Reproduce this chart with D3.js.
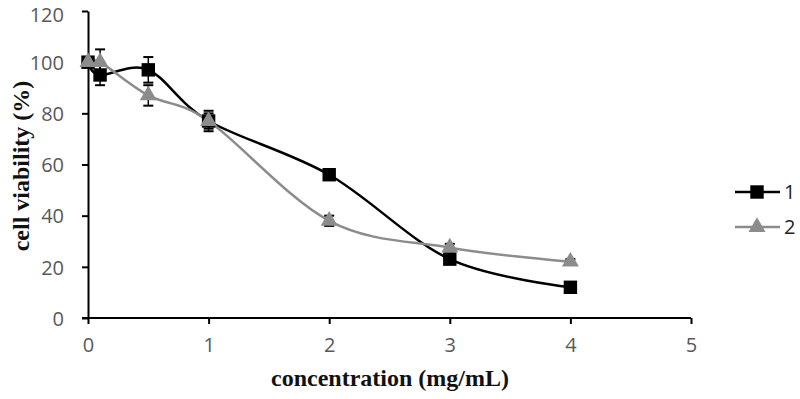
<!DOCTYPE html>
<html>
<head>
<meta charset="utf-8">
<script src="https://cdn.jsdelivr.net/npm/d3@7"></script>
<style>
    body { margin: 0; background: #fff; }
    .tick text { font-family: "Open Sans", sans-serif; font-size: 20px; fill: #595959; }
    .axis-title { font-family: "Liberation Serif", serif; font-weight: bold; font-size: 24px; fill: #111; }
    .legend text { font-family: "Open Sans", sans-serif; font-size: 20px; fill: #222; }
</style>
</head>
<body>
<svg id="chart" width="800" height="399"></svg>
<script>
const conc = [0, 0.1, 0.5, 1, 2, 3, 4];
const viab1 = [100, 95, 97, 77, 56, 23, 12];
const err1 = [2, 4, 5, 4, 2, 1.5, 1];
const viab2 = [100, 100, 87, 77, 38, 27.5, 22];
const err2 = [2, 5, 4, 3, 2, 1.5, 1];
const xTicks = [0, 1, 2, 3, 4, 5];
const yTicks = [0, 20, 40, 60, 80, 100, 120];
const seriesNames = ["1", "2"];

const svg = d3.select("#chart");
const padding = {top: 11, right: 109, bottom: 81, left: 88};
const width = 800, height = 399;

const x = d3.scaleLinear().domain([0, 5]).range([padding.left, width - padding.right]);
const y = d3.scaleLinear().domain([0, 120]).range([height - padding.bottom, padding.top]);

const series = [
    {name: seriesNames[0], values: viab1, err: err1, color: "#000", symbol: d3.symbolSquare, size: 180},
    {name: seriesNames[1], values: viab2, err: err2, color: "#8c8c8c", symbol: d3.symbolTriangle, size: 125}
];

// axes
const xAxis = svg.append("g")
    .attr("transform", `translate(0,${y(0)})`)
    .call(d3.axisBottom(x).tickValues(xTicks).tickFormat(d3.format("d")).tickSize(6).tickSizeOuter(0));
xAxis.select(".domain").attr("stroke", "#000").attr("stroke-width", 2).attr("d", `M${x(0) - 6},0H${x(5)}`);
xAxis.selectAll(".tick line").attr("stroke-width", 2);
xAxis.selectAll(".tick text").attr("y", 14).attr("dy", "1em");

const yAxis = svg.append("g")
    .attr("transform", `translate(${x(0)},0)`)
    .call(d3.axisLeft(y).tickValues(yTicks).tickSize(6).tickSizeOuter(0));
yAxis.select(".domain").attr("stroke", "#000").attr("stroke-width", 2);
yAxis.selectAll(".tick line").attr("stroke-width", 2);
yAxis.selectAll(".tick text").attr("x", -24).attr("dy", "0.36em")
    .filter(d => d === 120).attr("y", 3); // keep the top label inside the frame

svg.append("text").attr("class", "axis-title")
    .attr("x", 390).attr("y", 386).attr("text-anchor", "middle")
    .text("concentration (mg/mL)");
svg.append("text").attr("class", "axis-title")
    .attr("transform", "translate(29,166) rotate(-90)").attr("text-anchor", "middle")
    .text("cell viability (%)");

const line = d3.line()
    .x((d, i) => x(conc[i]))
    .y(d => y(d))
    .curve(d3.curveCardinal.tension(0));

series.forEach(s => {
    svg.append("path")
        .datum(s.values)
        .attr("fill", "none")
        .attr("stroke", s.color)
        .attr("stroke-width", 2.5)
        .attr("d", line);
});

series.forEach(s => {
    const g = svg.append("g");
    s.values.forEach((v, i) => {
        const cx = x(conc[i]);
        const top = y(v + s.err[i]), bot = y(v - s.err[i]);
        g.append("line").attr("x1", cx).attr("x2", cx).attr("y1", top).attr("y2", bot)
            .attr("stroke", "#000").attr("stroke-width", 1.5);
        [top, bot].forEach(yy => g.append("line")
            .attr("x1", cx - 5).attr("x2", cx + 5).attr("y1", yy).attr("y2", yy)
            .attr("stroke", "#000").attr("stroke-width", 2));
    });
    g.selectAll("path")
        .data(s.values)
        .enter()
        .append("path")
        .attr("transform", (d, i) => `translate(${x(conc[i])},${y(d)})`)
        .attr("d", d3.symbol().type(s.symbol).size(s.size))
        .attr("fill", s.color);
});

// legend
const legend = svg.append("g").attr("class", "legend");
series.forEach((s, i) => {
    const ly = 192 + i * 35;
    legend.append("line").attr("x1", 735).attr("x2", 780).attr("y1", ly).attr("y2", ly)
        .attr("stroke", s.color).attr("stroke-width", 2.5);
    legend.append("path").attr("transform", `translate(757,${ly})`)
        .attr("d", d3.symbol().type(s.symbol).size(s.size)).attr("fill", s.color);
    legend.append("text").attr("x", 784).attr("y", ly).attr("dy", "0.36em").text(s.name);
});
</script>
</body>
</html>
